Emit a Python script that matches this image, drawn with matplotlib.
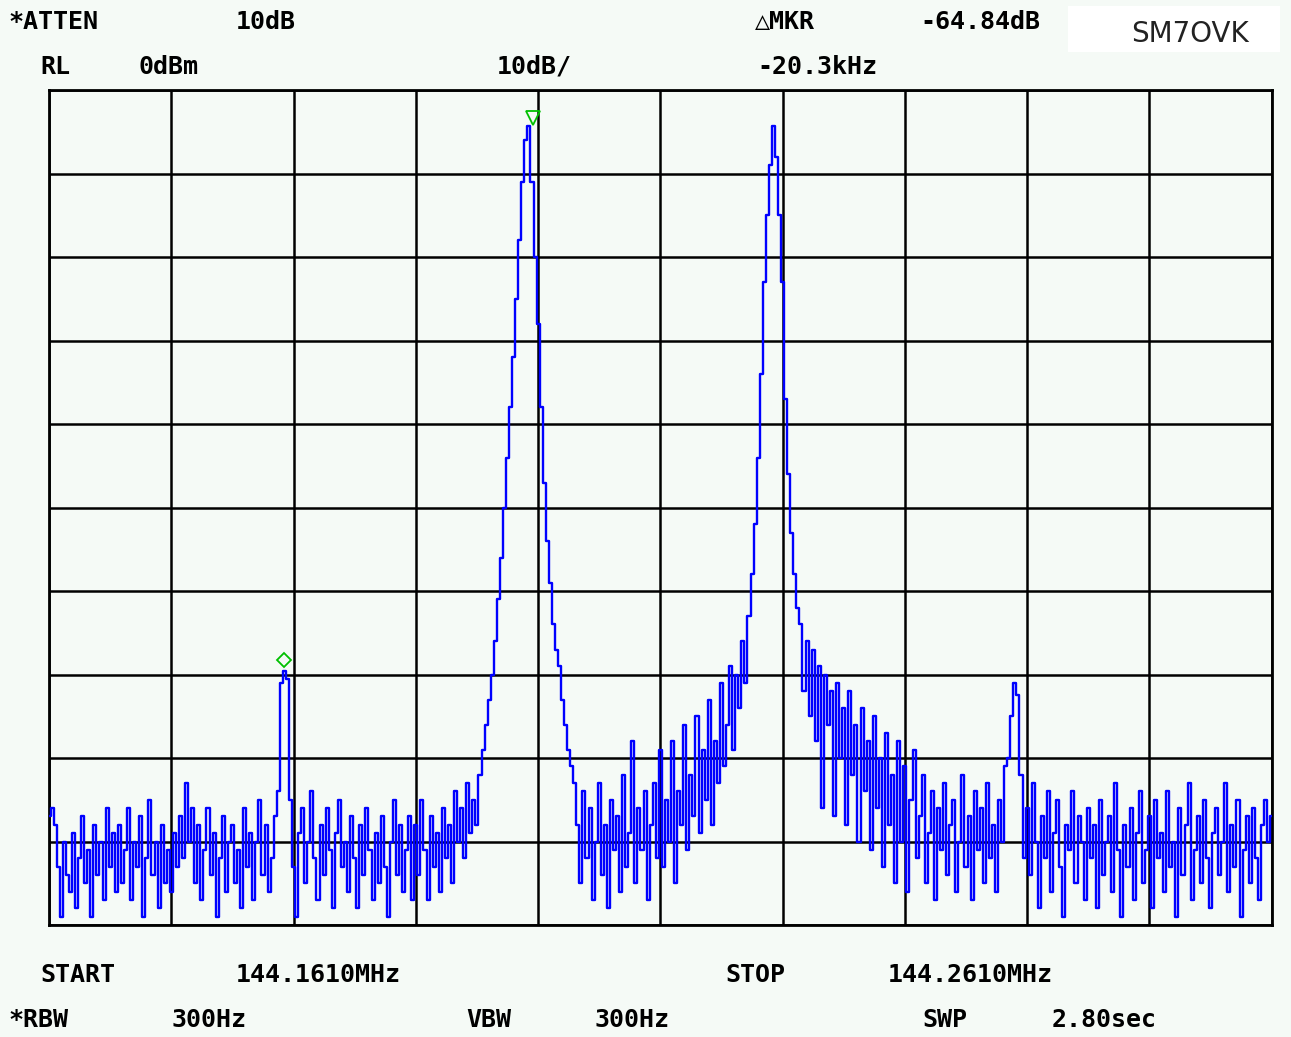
import numpy as np
import matplotlib
matplotlib.use("Agg")
import matplotlib.pyplot as plt

start_mhz = 144.1610
stop_mhz = 144.2610
ref_level = 0      # dBm
db_per_div = 10

# trace, 401 points, dBm
trace_db = [
    # div 0
    -87, -86, -88, -93, -99, -90, -94, -96, -89, -98, -92, -87, -95, -91, -99, -88, -94, -90, -97, -86,
    -93, -89, -96, -88, -95, -91, -86, -97, -90, -93, -87, -99, -92, -85, -94, -90, -98, -88, -95, -91,
    # div 1 (spur at the end)
    -96, -89, -93, -87, -92, -83, -90, -86, -95, -88, -97, -91, -86, -94, -89, -99, -92, -87, -96, -90,
    -88, -95, -91, -98, -86, -93, -89, -97, -90, -85, -94, -88, -96, -92, -87, -84, -71, -69.6, -70.5, -85,
    # div 2
    -93, -99, -89, -86, -95, -90, -84, -92, -97, -88, -94, -86, -91, -98, -89, -85, -93, -90, -96, -87,
    -92, -98, -88, -94, -86, -91, -97, -89, -95, -87, -93, -99, -90, -85, -94, -88, -96, -91, -87, -97,
    # div 3 (main carrier)
    -88, -94, -85, -91, -97, -87, -93, -89, -96, -86, -92, -88, -95, -84, -90, -86, -92, -83, -89, -85,
    -88, -82, -79, -76, -73, -70, -66, -61, -56, -50, -44, -38, -32, -25, -18, -11, -6, -4.3, -11, -20,
    # div 4
    -28, -38, -47, -54, -59, -64, -67, -69, -73, -76, -79, -81, -83, -88, -95, -84, -92, -86, -97, -90,
    -83, -94, -88, -98, -85, -91, -87, -96, -82, -93, -89, -78, -95, -86, -91, -84, -97, -88, -83, -92,
    # div 5 (second carrier)
    -79, -93, -85, -90, -78, -95, -84, -88, -76, -91, -82, -87, -75, -89, -79, -85, -73, -88, -78, -83,
    -71, -81, -76, -69, -79, -70, -74, -66, -71, -63, -58, -52, -44, -34, -23, -15, -9, -4.3, -8, -15,
    # div 6
    -23, -37, -46, -53, -58, -62, -64, -72, -66, -75, -67, -78, -69, -86, -70, -76, -72, -87, -71, -80,
    -74, -88, -72, -82, -76, -90, -74, -84, -78, -91, -75, -86, -80, -93, -77, -88, -82, -95, -78, -90,
    # div 7 (spur at the end)
    -81, -96, -85, -79, -92, -87, -82, -95, -89, -84, -97, -86, -91, -83, -94, -88, -85, -96, -90, -82,
    -93, -87, -97, -84, -91, -86, -95, -83, -92, -88, -96, -85, -90, -81, -80, -75, -71, -72.5, -82, -92,
    # div 8
    -86, -94, -83, -90, -98, -87, -92, -84, -96, -89, -85, -93, -99, -88, -91, -84, -95, -87, -90, -97,
    -86, -92, -88, -98, -85, -94, -90, -87, -96, -83, -91, -99, -88, -93, -86, -97, -89, -84, -95, -91,
    # div 9
    -87, -98, -85, -92, -89, -96, -84, -93, -90, -99, -86, -94, -88, -83, -97, -91, -87, -95, -85, -92,
    -98, -89, -86, -94, -90, -83, -96, -88, -93, -85, -99, -91, -87, -95, -86, -92, -97, -88, -85, -90,
    -87,
]

mkr_idx = 157     # main marker (peak)
dmkr_idx = 77     # delta marker (spur)

bg = '#f5faf6'
freq = np.linspace(start_mhz, stop_mhz, len(trace_db))
trace = np.array(trace_db)

fig = plt.figure(figsize=(12.91, 10.37), dpi=100, facecolor=bg)
ax = fig.add_axes([0.038, 0.108, 0.947, 0.805])
ax.set_facecolor(bg)

ax.plot(freq, trace, color='#0000ff', linewidth=1.7, drawstyle='steps-mid', zorder=3)

# markers
ax.plot(freq[mkr_idx] + 0.0003, trace[mkr_idx] + 1.0, marker='v', markersize=10,
        markerfacecolor='none', markeredgecolor='#00c000', markeredgewidth=1.3, zorder=4)
ax.plot(freq[dmkr_idx], trace[dmkr_idx] + 1.3, marker='D', markersize=7,
        markerfacecolor='none', markeredgecolor='#00c000', markeredgewidth=1.3, zorder=4)

ax.set_xlim(start_mhz, stop_mhz)
ax.set_ylim(ref_level - 10 * db_per_div, ref_level)
ax.set_xticks(np.linspace(start_mhz, stop_mhz, 11))
ax.set_yticks(np.arange(ref_level - 10 * db_per_div, ref_level + 1, db_per_div))
ax.tick_params(length=0, labelbottom=False, labelleft=False)
ax.grid(True, color='black', linewidth=1.8, zorder=1)
for s in ax.spines.values():
    s.set_linewidth(2)
    s.set_color('black')

# screen annotations
W, H = 1291, 1037
def txt(x, y, s):
    fig.text(x / W, 1 - y / H, s, fontsize=18, fontweight='bold',
             family='DejaVu Sans Mono', va='center', ha='left', color='black')

txt(8, 22, '*ATTEN')
txt(236, 22, '10dB')
txt(40, 67, 'RL')
txt(138, 67, '0dBm')
txt(497, 67, '10dB/')
txt(755, 22, '△MKR')
txt(920, 22, '-64.84dB')
txt(757, 67, '-20.3kHz')
txt(40, 975, 'START')
txt(236, 975, '144.1610MHz')
txt(725, 975, 'STOP')
txt(888, 975, '144.2610MHz')
txt(8, 1020, '*RBW')
txt(171, 1020, '300Hz')
txt(466, 1020, 'VBW')
txt(594, 1020, '300Hz')
txt(922, 1020, 'SWP')
txt(1052, 1020, '2.80sec')

# callsign box
fig.patches.append(plt.Rectangle((1068 / W, 1 - 52 / H), 212 / W, 46 / H,
                                 transform=fig.transFigure, facecolor='white',
                                 edgecolor='none', zorder=0))
fig.text(1190 / W, 1 - 34 / H, 'SM7OVK', fontsize=20, family='DejaVu Sans',
         ha='center', va='center', color='#222222')

fig.savefig('out.png', dpi=100, facecolor=bg)
